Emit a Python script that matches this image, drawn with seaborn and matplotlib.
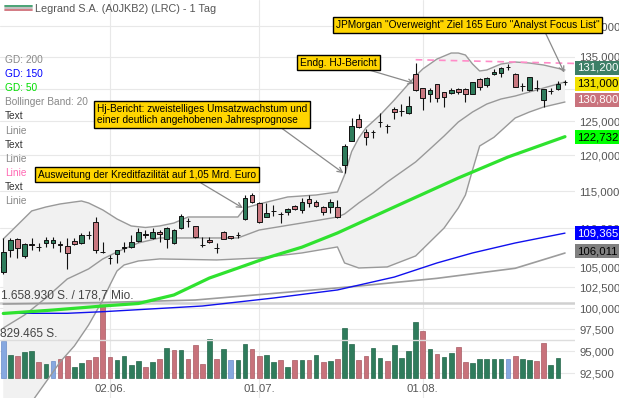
import numpy as np
import matplotlib
matplotlib.use("Agg")
import matplotlib.pyplot as plt
import seaborn as sns
from matplotlib.lines import Line2D
from matplotlib.ticker import FuncFormatter, NullLocator

# ---- data (prices in EUR, one candle per trading day) ----
opens = [104.37, 107.19, 108.57, 106.47, 107.93, 107.58, 108.05, 108.05, 107.93, 107.75,
         108.39, 108.05, 109.13, 110.88, 106.94, 106.21, 106.64, 107.54, 107.54, 108.39,
         109.22, 108.70, 109.48, 108.57, 108.05, 110.00, 111.00, 110.31, 107.84, 108.48,
         107.41, 109.56, 109.00, 109.13, 111.23, 114.47, 113.43, 111.54, 112.35, 111.90,
         112.21, 112.98, 112.44, 113.88, 113.56, 112.80, 112.80, 112.89, 118.65, 122.14,
         125.30, 123.46, 123.46, 124.90, 124.30, 126.85, 126.55, 126.20, 132.23, 130.04,
         129.11, 130.66, 129.41, 129.26, 129.89, 129.85, 129.15, 131.49, 130.55, 132.23,
         132.39, 133.34, 132.28, 130.45, 129.77, 130.04, 128.23, 129.62, 129.88, 130.95]
closes = [106.90, 108.48, 107.41, 107.93, 107.87, 107.54, 108.48, 108.48, 107.87, 106.77,
          107.93, 109.13, 109.09, 107.19, 106.90, 106.17, 107.19, 107.49, 108.26, 109.48,
          109.17, 109.56, 109.22, 110.08, 109.78, 111.64, 111.01, 108.83, 107.80, 108.22,
          107.40, 108.65, 108.70, 109.12, 114.02, 113.48, 110.88, 112.00, 112.34, 111.89,
          112.53, 112.61, 113.56, 113.34, 113.02, 112.21, 113.48, 111.46, 121.41, 124.35,
          124.20, 122.63, 123.45, 124.89, 124.29, 126.35, 126.54, 127.31, 129.77, 128.49,
          129.77, 128.58, 128.74, 129.72, 129.51, 129.11, 130.97, 130.24, 131.60, 132.59,
          133.18, 133.33, 130.29, 130.44, 131.76, 130.03, 129.88, 129.61, 130.66, 131.00]
highs = [108.70, 108.78, 108.78, 108.05, 108.70, 108.05, 108.91, 108.91, 108.35, 108.70,
         108.70, 109.35, 109.65, 111.46, 108.26, 106.55, 107.19, 108.26, 109.13, 110.00,
         109.78, 110.04, 109.78, 110.21, 109.87, 111.87, 111.33, 110.31, 108.83, 108.83,
         108.05, 109.69, 109.00, 109.56, 114.47, 114.70, 113.56, 113.43, 113.12, 112.21,
         112.67, 113.12, 114.02, 114.47, 113.79, 112.98, 113.88, 113.79, 121.61, 125.46,
         126.05, 123.86, 123.71, 126.30, 124.55, 127.20, 127.57, 128.89, 133.98, 130.04,
         130.04, 130.66, 129.51, 130.13, 130.13, 130.04, 131.06, 131.60, 131.86, 133.02,
         133.43, 133.86, 132.39, 130.86, 131.76, 131.33, 129.88, 130.04, 131.17, 131.33]
lows = [104.12, 106.34, 106.14, 106.21, 107.19, 107.06, 107.62, 107.49, 106.90, 104.79,
        107.84, 107.93, 108.57, 106.77, 106.77, 105.38, 105.50, 106.97, 107.41, 108.26,
        108.78, 108.57, 108.26, 107.41, 107.97, 109.87, 110.21, 108.78, 107.62, 108.13,
        106.77, 108.57, 108.57, 108.70, 111.10, 113.34, 110.74, 111.46, 111.64, 110.74,
        111.77, 112.44, 112.00, 112.89, 112.89, 111.77, 112.00, 111.33, 117.48, 122.09,
        124.05, 121.51, 122.48, 124.20, 123.22, 125.30, 125.84, 126.10, 129.66, 126.70,
        127.97, 127.97, 127.11, 129.11, 129.11, 127.97, 129.11, 129.77, 130.29, 132.12,
        131.86, 132.91, 130.20, 129.61, 129.66, 129.61, 127.11, 129.11, 129.77, 130.55]

# daily volume (shares) and its direction vs. previous close: u = up, d = down, f = flat
volumes = [822000, 499000, 470000, 558000, 595000, 338000, 294000, 367000, 404000, 470000,
           242000, 323000, 389000, 448000, 1658930, 448000, 382000, 470000, 279000, 360000,
           242000, 345000, 404000, 646000, 617000, 617000, 404000, 719000, 301000, 866000,
           418000, 639000, 396000, 389000, 756000, 624000, 477000, 499000, 338000, 382000,
           235000, 382000, 389000, 382000, 499000, 338000, 360000, 411000, 1094000, 756000,
           382000, 484000, 646000, 426000, 360000, 734000, 426000, 587000, 1240000, 1028000,
           624000, 521000, 455000, 543000, 690000, 345000, 323000, 404000, 404000, 404000,
           404000, 404000, 484000, 418000, 389000, 374000, 778000, 279000, 426000]
vol_dir = list("fuduudufdd" "uudddduuuu" "dudududddu" "dufuudduud"
               "ududududuu" "dduuduuuud" "uduudduuuu" "ufduudduu")

# Bollinger band (20) read at selected candles
bb_up_idx = [0, 2, 4, 6, 8, 10, 11, 12, 14, 16, 18, 20, 22, 24, 26, 30, 33, 34, 36, 40,
             44, 47, 48, 49, 50, 51, 53, 55, 57, 58, 59, 61, 63, 64, 65, 66, 67, 68, 70, 72,
             74, 76, 79]
bb_up = [108.61, 110.44, 112.31, 112.84, 113.25, 113.52, 113.65, 113.38, 112.44, 111.23,
         110.31, 110.11, 110.31, 110.70, 111.50, 111.50, 111.50, 112.71, 113.25, 114.20,
         114.47, 114.88, 117.24, 120.58, 122.53, 124.02, 125.95, 128.23, 130.71, 131.96,
         133.07, 134.66, 135.63, 135.63, 135.31, 133.86, 132.75, 132.91, 133.86, 134.18,
         134.02, 133.70, 132.91]
bb_mid_idx = [0, 3, 6, 9, 12, 14, 16, 19, 22, 33, 36, 42, 47, 48, 50, 52, 54, 56, 58, 60,
              62, 64, 66, 68, 70, 72, 74, 76, 79]
bb_mid = [97.65, 99.18, 101.22, 103.54, 104.79, 106.05, 106.94, 108.09, 108.74, 108.74,
          109.78, 110.70, 111.50, 111.90, 113.39, 114.74, 116.26, 117.66, 119.08, 120.93,
          122.83, 124.90, 126.40, 127.61, 128.38, 128.84, 129.46, 130.08, 131.02]
bb_low_idx = [0, 2, 4, 6, 8, 10, 12, 14, 15, 16, 17, 19, 22, 30, 36, 42, 47, 48, 50, 54,
              58, 60, 62, 64, 65, 66, 67, 69, 72, 74, 76, 79]
bb_low = [85.20, 87.27, 89.39, 91.55, 93.77, 95.58, 98.00, 100.97, 102.80, 104.54,
          105.29, 105.79, 106.05, 105.92, 106.17, 106.81, 107.58, 105.54, 104.91, 105.04,
          106.43, 108.22, 110.04, 112.71, 114.47, 117.94, 121.37, 122.63, 125.50, 126.40,
          127.16, 127.92]

# moving averages (GD = gleitender Durchschnitt)
gd50_idx = [0, 7, 14, 19, 24, 29, 33, 37, 42, 47, 55, 64, 71, 79]
gd50 = [99.36, 99.77, 100.25, 100.55, 101.58, 103.66, 104.90, 106.17, 107.55, 109.39,
        112.84, 116.82, 119.79, 122.73]
gd150_idx = [0, 9, 14, 28, 38, 47, 55, 61, 66, 72, 79]
gd150 = [99.38, 99.38, 99.57, 100.25, 101.21, 102.19, 103.78, 105.54, 106.81, 108.09, 109.37]
gd200_idx = [0, 14, 27, 38, 50, 61, 72, 79]
gd200 = [100.49, 100.67, 100.97, 101.77, 102.67, 103.62, 104.87, 106.80]

# user-drawn dashed resistance line
pink_idx = [58, 80.4]
pink_val = [134.55, 133.95]

price_ticks = [92.5, 95, 97.5, 100, 102.5, 105, 110, 115, 120, 125, 130, 135, 140]
hidden_ticks = [130]          # label sits fully behind the last-price boxes
date_ticks = [15, 36, 59]
date_labels = ["02.06.", "01.07.", "01.08."]

# last-value boxes on the right: (text, centre y px, background, text colour)
value_boxes = [("131,200", 68, "#3d7f67", "white"),
               ("131,000", 84, "#f2e100", "black"),
               ("130,800", 100, "#c9737d", "white"),
               ("122,732", 137, "#00ff00", "black"),
               ("109,365", 233, "#0000ff", "white"),
               ("106,011", 251, "#808080", "black")]

# news boxes: text, text left/centre px, arrow start px, arrow tip (candle idx, price)
news = [("Ausweitung der Kreditfazilität auf 1,05 Mrd. Euro", 38, 174.5, (201, 183), (33.7, 112.7)),
        ("Hj-Bericht: zweistelliges Umsatzwachstum und\neiner deutlich angehobenen Jahresprognose",
         97, 114.5, (280, 127), (47.85, 117.5)),
        ("Endg. HJ-Bericht", 300, 62.5, (369, 70), (57.8, 130.8)),
        ('JPMorgan "Overweight" Ziel 165 Euro "Analyst Focus List"', 336, 25, (545, 32), (78.9, 132.5))]

legend_items = [("GD: 200", "#888888"), ("GD: 150", "#0000ff"), ("GD: 50", "#00dd00"),
                ("Bollinger Band: 20", "#888888"), ("Text", "#333333"), ("Linie", "#888888"),
                ("Text", "#333333"), ("Linie", "#888888"), ("Linie", "#ff69b4"),
                ("Text", "#333333"), ("Linie", "#888888")]

# ---- figure ----
sns.set_theme(style="white")
plt.rcParams["font.family"] = ["Liberation Sans", "DejaVu Sans"]

W, H = 619, 398
fig = plt.figure(figsize=(W / 100, H / 100), dpi=100)
fig.patch.set_facecolor("white")


def fx(x):
    return x / W


def fy(y):
    return 1 - y / H


def price_label(v, pos):
    if any(abs(v - h) < 1e-6 for h in hidden_ticks):
        return ""
    return f"{v:.3f}".replace(".", ",")


rect = [0, 0, 575 / W, 1]
ax = fig.add_axes(rect, zorder=0)                          # grid, band fill, axis labels
ax_v = fig.add_axes(rect, sharex=ax, zorder=1)             # volume
ax_p = fig.add_axes(rect, sharex=ax, sharey=ax, zorder=2)  # candles and lines
for a in (ax_v, ax_p):
    a.patch.set_visible(False)
for a in (ax, ax_v, ax_p):
    for s in a.spines.values():
        s.set_visible(False)

ax.set_yscale("log")
ax.set_xlim(-0.46, 80.41)
ax.set_ylim(89.815, 144.50)

ax.yaxis.tick_right()
ax.set_yticks(price_ticks)
ax.yaxis.set_minor_locator(NullLocator())
ax.yaxis.set_major_formatter(FuncFormatter(price_label))
ax.tick_params(axis="y", length=0, pad=3, labelsize=8.2, labelcolor="#555555")
ax.set_xticks(date_ticks, date_labels)
ax.tick_params(axis="x", length=0, pad=-10, labelsize=8.2, labelcolor="#555555")
ax.grid(True, color="#e8e8e8", lw=0.8)

for a in (ax_v, ax_p):
    a.tick_params(left=False, right=False, bottom=False, labelleft=False,
                  labelright=False, labelbottom=False)
    a.grid(False)

# Bollinger band fill
ax.fill(np.r_[bb_up_idx, bb_low_idx[::-1]], np.r_[bb_up, bb_low[::-1]],
        color="#f1f1f1", lw=0)

# volume
n_vol = len(volumes)
vol_colors = {"u": "#2f7c5c", "d": "#c8727b", "f": "#86a8e0"}
vol_edges = {"u": "#25664b", "d": "#a85a63", "f": "#6a8cc8"}
ax_v.set_ylim(-449000, 8354000)
ax_v.set_yticks([])
ax_v.axhline(max(volumes), color="#d0d0d0", lw=1.8)
ax_v.axhline(max(volumes) / 2, color="#dddddd", lw=1.0)
ax_v.bar(np.arange(n_vol), volumes, width=0.66,
         color=[vol_colors[d] for d in vol_dir],
         edgecolor=[vol_edges[d] for d in vol_dir], lw=0.5)

# band lines and moving averages
for xs, ys in ((bb_up_idx, bb_up), (bb_mid_idx, bb_mid), (bb_low_idx, bb_low)):
    sns.lineplot(x=xs, y=ys, ax=ax_p, color="#999999", lw=1.0, legend=False)
sns.lineplot(x=gd200_idx, y=gd200, ax=ax_p, color="#9c9c9c", lw=1.2, legend=False)
sns.lineplot(x=gd150_idx, y=gd150, ax=ax_p, color="#1010ee", lw=1.0, legend=False)
sns.lineplot(x=gd50_idx, y=gd50, ax=ax_p, color="#2fe22f", lw=2.3, legend=False)
ax_p.plot(pink_idx, pink_val, color="#ff8cc8", lw=1.2, ls=(0, (4, 3)))

# candles
idx = np.arange(len(closes))
o = np.array(opens)
c = np.array(closes)
body_colors = ["#111111" if abs(cc - oo) < 0.06 else ("#2f7c5c" if cc > oo else "#c97880")
               for oo, cc in zip(o, c)]
ax_p.vlines(idx, lows, highs, color="#111111", lw=0.8, zorder=5)
ax_p.bar(idx, c - o, bottom=o, width=0.66, color=body_colors,
         edgecolor="#111111", lw=0.7, zorder=6)
ax_p.set_xlabel("")
ax_p.set_ylabel("")

# title with small icon
for yy, col in ((5.5, "#3a9c6a"), (7.8, "#bbbbbb"), (10.2, "#d0707a")):
    fig.add_artist(Line2D([fx(5), fx(32)], [fy(yy), fy(yy)], transform=fig.transFigure,
                          color=col, lw=1.3))
fig.text(fx(35), fy(8.5), "Legrand S.A. (A0JKB2) (LRC) - 1 Tag", fontsize=7.8,
         color="#555555", va="center", ha="left")

# indicator list on the left
for i, (label, col) in enumerate(legend_items):
    fig.text(fx(5), fy(60.3 + 14.04 * i), label, fontsize=7.3, color=col,
             va="center", ha="left")

# volume scale labels
fig.text(fx(1), fy(296), "1.658.930 S. / 178,7 Mio.", fontsize=8.6, color="#444444",
         va="center", ha="left")
fig.text(fx(0), fy(334), "829.465 S.", fontsize=8.6, color="#444444",
         va="center", ha="left")

# news boxes with arrows
for text, tx, ty, start, tip in news:
    fig.text(fx(tx), fy(ty), text, fontsize=7.3, color="black", va="center", ha="left",
             linespacing=1.05, zorder=10,
             bbox=dict(boxstyle="square,pad=0.28", fc="#ffd500", ec="black", lw=1.0))
    ax_p.annotate("", xy=tip, xycoords="data",
                  xytext=(start[0], H - start[1]), textcoords="figure pixels",
                  arrowprops=dict(arrowstyle="->", color="#8a8a8a", lw=0.9,
                                  shrinkA=0, shrinkB=0, mutation_scale=9))

# value boxes on the price scale
for text, yc, bg, fg in value_boxes:
    fig.text(fx(577.5), fy(yc), text, fontsize=8.2, color=fg, va="center", ha="left",
             zorder=10, bbox=dict(boxstyle="square,pad=0.18", fc=bg, ec="none"))

fig.savefig("out.png", dpi=100)
